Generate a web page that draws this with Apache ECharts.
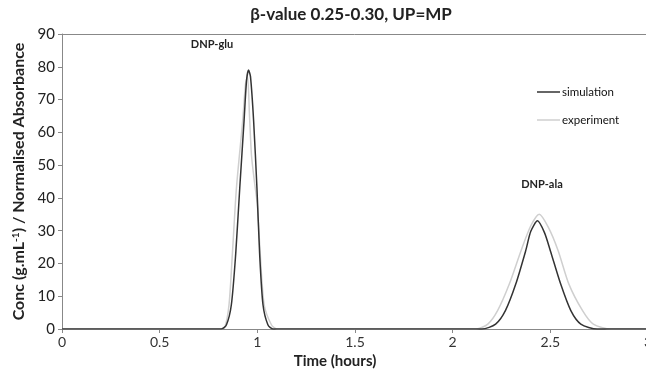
<!DOCTYPE html>
<html>
<head>
<meta charset="utf-8">
<script src="https://cdn.jsdelivr.net/npm/echarts@6/dist/echarts.min.js"></script>
<style>
  html, body { margin: 0; padding: 0; background: #fff; }
  #chart { width: 646px; height: 372px; }
</style>
</head>
<body>
<div id="chart"></div>
<script>
// time (hours), value
const simulation = [
    [0, 0], [0.816, 0], [0.842, 1.3], [0.867, 7.4], [0.889, 22.7], [0.910, 43],
    [0.932, 63.5], [0.945, 76], [0.955, 79], [0.965, 77], [0.981, 63.5], [0.998, 43],
    [1.012, 22.7], [1.029, 7.4], [1.054, 1.3], [1.08, 0],
    [2.15, 0], [2.22, 1.5], [2.27, 5.6], [2.323, 13.7], [2.374, 23.9], [2.40, 29.8],
    [2.434, 33], [2.47, 29.4], [2.50, 23.9], [2.553, 13.7], [2.605, 5.6], [2.656, 1.5],
    [2.74, 0], [3, 0]
]
const experiment = [
    [0, 0], [0.81, 0], [0.833, 0.5], [0.855, 7.4], [0.872, 22.7], [0.893, 43],
    [0.925, 63.5], [0.94, 75], [0.95, 77], [0.96, 65], [0.97, 53], [0.985, 45],
    [1.0, 38], [1.015, 22.7], [1.035, 7.4], [1.072, 1.3], [1.10, 0],
    [2.12, 0], [2.18, 1.5], [2.23, 5.6], [2.29, 13.7], [2.35, 23.9], [2.40, 31.5],
    [2.443, 35], [2.49, 31], [2.54, 23.9], [2.595, 13.7], [2.665, 5.6], [2.72, 1.5],
    [2.81, 0], [3, 0]
]
const xTicks = ['0', '0.5', '1', '1.5', '2', '2.5', '3']

const font = 'Lato, "Open Sans", sans-serif'
let chart = echarts.init(document.getElementById('chart'))

let option = {
    animation: false,
    textStyle: { fontFamily: font },
    grid: { left: 62, right: -2, top: 34, bottom: 43, outerBoundsMode: 'none', containLabel: false },
    legend: {
        orient: 'vertical',
        left: 532,
        top: 81,
        itemGap: 16,
        itemWidth: 23,
        itemHeight: 1.5,
        icon: 'rect',
        textStyle: { fontSize: 11.5, color: '#111', fontFamily: font, padding: [0, 0, 0, -3] },
        data: ['simulation', 'experiment']
    },
    xAxis: [
        {
            type: 'value',
            min: 0,
            max: 3,
            interval: 0.5,
            name: 'Time (hours)',
            nameLocation: 'middle',
            nameGap: 22,
            nameTextStyle: { fontSize: 15, fontWeight: 'bold', color: '#222', padding: [0, 40, 0, 0] },
            axisLine: { show: true, lineStyle: { color: '#888' } },
            axisTick: { show: true, length: 4, lineStyle: { color: '#888' } },
            axisLabel: {
                fontSize: 14,
                color: '#333',
                margin: 6,
                formatter: (v) => xTicks[Math.round(v * 2)]
            },
            splitLine: { show: false }
        },
        {
            type: 'value',
            position: 'top',
            min: 0,
            max: 3,
            axisLine: { show: true, lineStyle: { color: '#888' } },
            axisTick: { show: false },
            axisLabel: { show: false },
            splitLine: { show: false }
        }
    ],
    yAxis: {
        type: 'value',
        min: 0,
        max: 90,
        interval: 10,
        name: '{a|Conc (g.mL}{s|-1}{a|) / Normalised Absorbance}',
        nameLocation: 'middle',
        nameGap: 33,
        nameTextStyle: {
            rich: {
                a: { fontSize: 16, fontWeight: 'bold', color: '#222', fontFamily: font },
                s: { fontSize: 10, fontWeight: 'bold', color: '#222', fontFamily: font, verticalAlign: 'top', padding: [0, 0, 6, 0] }
            }
        },
        axisLine: { show: true, lineStyle: { color: '#888' } },
        axisTick: { show: true, length: 4, lineStyle: { color: '#888' } },
        axisLabel: { fontSize: 15, color: '#222', margin: 7 },
        splitLine: { show: false }
    },
    series: [
        {
            name: 'experiment',
            type: 'line',
            data: experiment,
            smooth: 0.25,
            showSymbol: false,
            symbol: 'none',
            color: '#cfcfcf',
            lineStyle: { width: 1.5, color: '#cfcfcf' },
            z: 2
        },
        {
            name: 'simulation',
            type: 'line',
            data: simulation,
            smooth: 0.25,
            showSymbol: false,
            symbol: 'none',
            color: '#333',
            lineStyle: { width: 1.5, color: '#333' },
            z: 3
        }
    ],
    graphic: [
        {
            type: 'text',
            x: 351, y: 6,
            style: { text: 'β-value 0.25-0.30, UP=MP', font: 'bold 17px ' + font, fill: '#222', textAlign: 'center' }
        },
        {
            type: 'text',
            x: 212, y: 39,
            style: { text: 'DNP-glu', font: 'bold 11px ' + font, fill: '#222', textAlign: 'center' }
        },
        {
            type: 'text',
            x: 542, y: 179,
            style: { text: 'DNP-ala', font: 'bold 11px ' + font, fill: '#222', textAlign: 'center' }
        }
    ]
}
chart.setOption(option)
</script>
</body>
</html>
